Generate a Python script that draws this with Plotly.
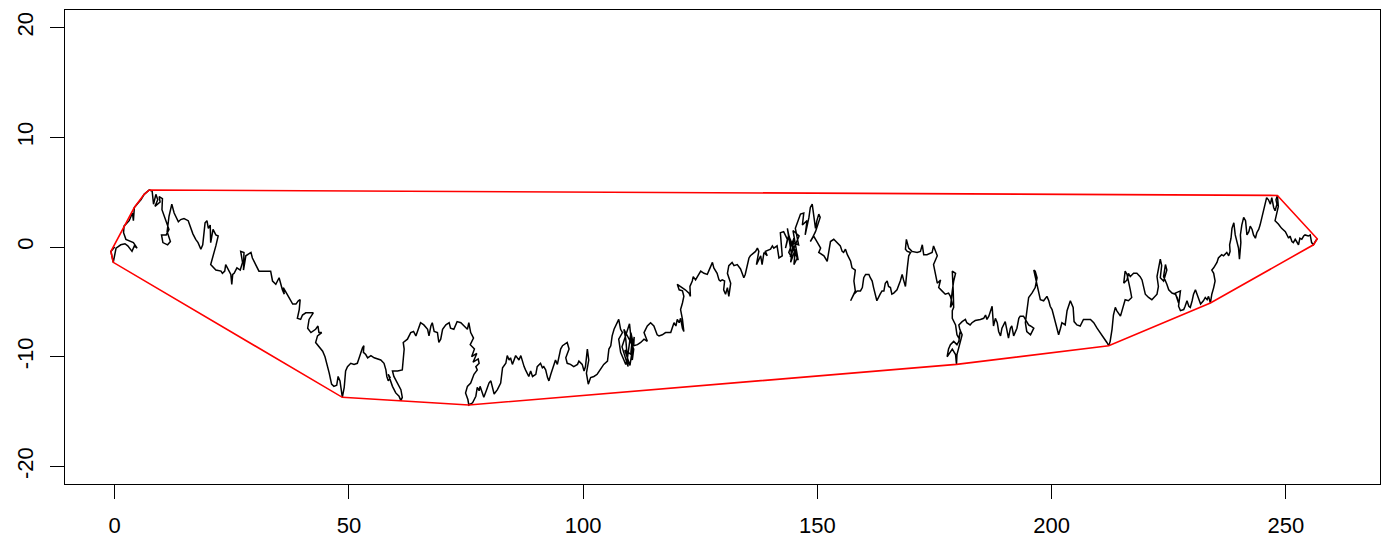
import plotly.graph_objects as go

# Random-walk path (data units), in drawing order
walk_x = [
    0.0, -0.8, -0.3, 0.3, 1.3, 2.2, 2.8, 3.7, 4.2, 4.8, 4.0, 2.4, 1.9, 2.0, 3.1, 3.8, 4.0, 4.3, 4.2, 5.0,
    5.6, 6.3, 7.4, 8.0, 8.3, 8.8, 9.2, 8.6, 9.7, 9.5, 10.2, 10.1, 10.6, 11.2, 11.6, 11.0, 10.0, 10.3, 11.3, 11.9,
    11.2, 11.6, 12.2, 12.7, 13.6, 14.1, 14.8, 15.7, 16.3, 16.7, 17.3, 17.8, 18.4, 18.8, 19.3, 19.7, 20.0, 20.4, 20.5, 21.0,
    21.6, 22.1, 21.6, 20.5, 21.6, 22.7,
    23.0, 23.5, 23.7, 24.4, 24.8, 25.0, 25.2, 25.5, 26.1, 26.8, 27.3, 26.9, 27.6, 27.5, 28.0, 29.1, 29.4, 30.1, 30.8, 31.9,
    33.3, 33.7, 34.4, 35.1, 35.5, 35.8, 36.2, 36.0, 36.8, 37.2, 38.0, 38.7, 39.2, 39.6, 39.4, 39.0, 39.7, 40.1, 40.8, 41.5,
    42.4, 41.5, 41.2, 41.9, 42.9, 43.4, 43.6, 44.2, 43.3, 42.9, 43.4, 44.4, 44.9, 45.3, 45.8, 46.3, 46.8, 47.4, 47.7, 48.1,
    48.6, 49.0, 49.3, 49.7, 50.4,
    51.1, 51.8, 52.2, 52.5, 52.9, 53.2, 53.1, 53.6, 54.0, 54.7, 55.4, 56.8, 57.5, 57.9, 58.1, 58.4, 58.8, 58.4, 59.3, 60.0,
    60.7, 61.1, 61.4, 61.1, 60.4, 59.6, 59.3, 60.4, 61.4, 61.8, 61.6, 62.5, 63.2, 63.8, 64.3, 65.0, 65.3, 66.0, 66.8, 67.1,
    67.5, 67.8, 68.2, 68.9, 69.2, 69.6, 70.0, 70.7, 71.4, 71.7, 72.4, 73.1, 73.9, 74.6, 75.3, 75.6, 76.0, 76.6, 75.9, 76.8,
    76.2, 77.3, 76.5, 77.6, 77.8, 77.1, 77.4, 76.7, 76.0, 75.3, 74.9, 75.4, 75.6,
    76.4, 77.1, 77.4, 77.8, 78.0, 78.5, 78.8, 79.4, 79.9, 80.3, 80.6, 81.0, 81.7, 82.4, 82.8, 83.5, 83.8, 84.2, 84.5, 84.9,
    85.6, 86.3, 86.7, 87.0, 87.4, 87.7, 88.1, 88.4, 88.8, 89.2, 89.9, 90.2, 90.9, 91.3, 91.6, 92.0, 92.4, 92.7, 93.1, 93.4,
    93.8, 94.1, 94.5, 95.2, 95.6, 95.9, 96.6, 97.0, 96.3, 96.6, 97.3, 98.0, 98.8, 99.1, 99.8, 100.2, 100.5, 100.9, 101.2, 100.7,
    101.1, 101.6, 102.3, 103.0, 103.7, 104.4, 105.2, 105.5, 105.9,
    106.2, 106.6, 106.9, 107.6, 108.0, 108.4, 107.6, 108.0, 108.7, 109.1, 109.4, 109.8, 110.2, 110.5, 110.2, 110.5, 110.8, 110.2, 109.4, 108.7,
    109.1, 109.6, 108.3, 109.9, 110.6, 108.9, 110.0, 110.9,
    110.8, 111.6, 112.3, 113.0, 113.7, 113.0, 113.7, 114.4, 115.1, 115.5, 115.8, 116.2, 116.9, 117.6, 118.7, 119.0, 119.4, 119.8, 120.1,
    120.5, 120.8, 121.2, 121.5, 121.2, 120.8, 121.2, 121.5, 121.2, 120.5, 120.1, 120.8, 121.8, 122.6, 122.9, 122.8, 123.3, 123.5, 124.0, 124.4,
    125.1, 125.8, 126.5, 126.8, 127.6, 127.9, 128.6, 129.0, 129.3, 129.7, 130.2, 130.0, 130.4, 130.8, 131.1, 131.5, 130.8, 131.1, 131.8, 132.2,
    132.9, 133.6, 133.9, 134.3, 134.6, 135.0, 135.4, 135.7,
    136.8, 137.2, 137.5, 137.0, 137.9, 138.2, 138.6, 139.3, 138.9, 140.0, 140.4, 140.7, 141.4, 141.8, 142.5, 142.1, 142.8, 143.6, 143.2, 143.9,
    144.3, 143.6, 144.6, 143.9, 145.0, 144.3, 145.3, 145.0, 145.7,
    144.0, 145.5, 144.2, 146.1, 144.8, 145.9, 144.5,
    146.0, 145.3, 146.4, 147.1, 146.8, 147.8, 147.4, 148.2, 148.5, 148.9, 149.2,
    149.6, 149.9, 150.3, 150.6, 149.6, 148.9, 148.5, 149.2, 149.9, 150.7, 150.3, 151.4, 152.1, 152.4, 152.8, 153.5, 154.2, 154.9, 155.3, 155.6,
    156.0, 156.4, 157.1, 157.4, 158.1, 157.8, 158.1, 157.1, 157.8, 158.5, 159.2, 159.6, 159.9, 160.3, 161.0, 161.3, 161.7, 162.0, 162.4, 162.7,
    163.4, 163.8, 164.2, 164.5, 164.9, 165.2, 165.6,
    165.9, 166.3, 167.0, 167.7, 168.1, 168.4, 168.8, 169.2, 169.5, 169.9, 169.2, 168.8, 169.0, 169.5, 170.2, 171.3, 172.0, 172.4, 172.7, 173.4,
    174.5, 174.8, 175.2, 175.6, 174.8, 175.2, 175.6, 176.3, 175.9, 176.6, 177.3, 178.0, 178.4, 178.8, 178.4, 178.8, 179.1, 179.5, 178.8, 179.0,
    179.1, 178.8,
    178.8, 179.5, 179.8, 180.2, 180.5, 180.2, 179.8, 179.1, 178.4, 178.0, 177.7, 178.4, 178.8, 179.5, 179.7, 179.8, 180.2, 180.5, 180.9, 180.4,
    180.2, 180.9, 181.6, 181.9, 182.6, 183.0, 183.7, 184.8, 185.5, 185.9, 186.2, 186.6, 186.9, 187.3, 187.6, 188.0, 188.4, 188.7, 189.1, 189.4,
    190.1, 190.5, 190.8, 191.2, 191.5, 191.9, 192.3, 192.6, 193.0, 193.3, 194.0, 194.7, 195.1, 195.5, 196.2, 195.5, 194.7, 194.4, 194.7, 195.1,
    195.8, 196.5, 196.9, 196.5, 196.2, 196.9, 197.2, 197.6, 198.3, 199.0, 199.4, 199.7, 200.1, 200.4, 200.8, 201.2, 201.5, 201.9, 202.2, 202.9,
    203.3, 204.0, 204.6, 204.8, 205.4, 206.1,
    206.8, 208.3, 209.0, 209.7, 210.4, 211.1, 211.8, 212.2, 212.5, 212.9, 213.2, 213.6, 213.9, 214.7, 215.0, 215.4, 215.7, 216.4, 217.1, 216.8,
    216.4, 216.1, 215.7, 215.4, 216.1, 216.4, 216.8, 217.5, 218.2, 218.9, 219.3, 219.6, 220.0, 220.7, 221.4, 222.5, 222.8, 222.5, 222.8, 223.2,
    223.5, 223.2, 223.9, 224.3, 224.6, 224.3, 223.9, 224.6, 225.0, 225.7, 226.4, 226.8, 227.1, 226.4, 227.5, 227.1, 227.5, 228.2, 228.5, 228.9,
    229.3, 229.6, 230.0, 230.3, 230.7, 231.0, 231.4, 231.8, 232.4, 232.8, 233.2, 233.5,
    233.9, 234.2, 234.6, 234.9, 234.6, 234.2, 234.6, 234.9, 235.3, 235.6, 236.0, 236.3, 236.7, 237.4, 237.8, 238.1, 238.0, 238.3, 238.5, 238.9,
    239.2, 239.6, 239.9, 240.1, 240.4, 240.3, 240.6, 241.0, 241.4, 241.7, 242.1, 242.4, 242.8, 243.1, 243.5, 243.8, 244.2, 244.5, 244.9, 245.2,
    245.6, 245.9, 246.3, 246.7, 247.0, 247.4, 247.7, 248.1, 247.9, 248.2, 248.4, 248.1, 247.7, 248.4, 249.1, 249.9, 250.2, 250.6, 250.9, 251.3,
    251.6, 252.0, 252.3, 252.7, 253.0, 253.4, 253.8, 254.1, 254.8, 255.2, 255.5, 255.9, 256.3, 256.7,
]
walk_y = [
    0.0, -0.4, -1.4, -0.1, 0.2, 0.3, 0.1, -0.4, 0.1, -0.1, 0.4, 0.7, 1.3, 1.9, 2.4, 3.1, 2.4, 3.4, 3.6, 4.0,
    4.3, 4.8, 5.2, 5.1, 3.9, 4.8, 4.3, 3.7, 4.1, 4.6, 4.4, 3.4, 2.8, 2.1, 1.6, 1.1, 1.1, 0.4, 0.2, 0.5,
    1.4, 2.8, 3.9, 3.1, 2.3, 2.5, 2.6, 2.4, 1.7, 1.2, 0.7, 0.4, -0.2, 0.2, 2.2, 2.4, 1.7, 2.0, 0.4, 1.6,
    1.1, 1.0, 0.1, -1.6, -2.1, -2.2,
    -2.4, -2.2, -1.6, -2.1, -2.5, -3.4, -2.5, -2.4, -1.9, -2.1, -1.4, -0.4, -0.5, -2.1, -0.8, -0.5, -1.0, -1.6, -2.2, -2.2,
    -2.2, -3.1, -3.4, -2.8, -3.6, -3.9, -4.3, -3.7, -4.3, -4.6, -5.2, -5.2, -4.9, -4.8, -5.7, -6.5, -6.6, -6.2, -6.0, -6.0,
    -6.0, -6.6, -7.4, -7.8, -7.5, -7.2, -7.8, -7.8, -8.1, -8.7, -9.0, -9.5, -10.0, -10.6, -11.5, -12.5, -12.7, -12.6, -11.8, -12.2,
    -13.7, -12.8, -11.3, -10.9, -10.6,
    -10.7, -10.6, -10.1, -9.6, -9.2, -9.0, -9.6, -9.8, -10.1, -9.9, -10.1, -10.3, -10.6, -11.2, -11.8, -12.2, -11.9, -11.6, -12.7, -13.3,
    -13.6, -14.0, -13.7, -13.0, -12.4, -11.8, -11.3, -11.3, -11.2, -9.3, -8.7, -8.4, -7.8, -7.7, -8.1, -7.2, -6.9, -7.1, -7.5, -8.1,
    -7.2, -6.9, -7.7, -7.8, -8.7, -8.4, -7.5, -7.1, -6.9, -7.4, -7.5, -6.8, -6.9, -7.2, -7.5, -6.9, -7.8, -8.3, -8.9, -9.3,
    -10.0, -9.7, -10.5, -10.2, -10.6, -10.9, -11.2, -11.6, -12.4, -12.7, -13.3, -13.9, -14.4,
    -14.2, -13.6, -12.8, -13.1, -12.7, -13.3, -13.7, -13.0, -12.4, -12.2, -12.7, -13.4, -13.0, -12.4, -11.0, -10.6, -9.9, -10.3, -10.1, -10.7,
    -9.9, -10.3, -9.9, -10.4, -10.9, -11.2, -11.6, -11.8, -11.3, -11.8, -11.6, -10.9, -10.6, -11.0, -10.9, -11.2, -11.9, -12.2, -11.6, -11.2,
    -10.6, -10.3, -10.7, -9.3, -9.0, -8.9, -8.7, -9.3, -10.1, -10.6, -10.7, -10.9, -10.7, -10.4, -10.7, -11.3, -10.9, -9.3, -10.3, -11.5,
    -12.5, -11.9, -11.8, -11.6, -11.2, -10.7, -10.4, -9.3, -9.0,
    -8.1, -7.5, -7.2, -6.6, -7.5, -7.8, -8.4, -9.6, -10.3, -10.7, -10.3, -9.0, -7.8, -8.4, -9.6, -10.3, -9.3, -8.7, -8.1, -7.5,
    -8.4, -10.9, -9.1, -7.0, -9.9, -9.4, -10.8, -8.2,
    -9.0, -8.9, -8.7, -8.4, -8.6, -7.8, -7.2, -6.9, -7.2, -7.7, -8.0, -8.1, -8.0, -7.8, -7.8, -7.4, -6.9, -7.2, -6.6,
    -6.9, -6.5, -7.4, -7.7, -6.6, -5.7, -5.1, -4.5, -4.0, -3.9, -3.4, -3.6, -3.9, -4.2, -4.5, -3.6, -3.1, -2.7, -3.0, -2.7,
    -2.2, -2.4, -2.5, -2.2, -1.4, -1.9, -2.4, -3.0, -3.1, -3.0, -3.1, -3.9, -4.3, -3.7, -4.5, -3.3, -2.4, -1.7, -1.4, -1.7,
    -1.6, -2.0, -2.4, -2.8, -2.5, -1.7, -1.0, -0.8,
    -0.4, -0.1, -0.4, -1.6, -0.8, -1.6, -0.5, -0.8, -0.4, -0.2, 0.1, -0.1, 0.1, -1.0, -0.8, 1.3, 1.4, 0.7, -0.1, 1.1,
    0.2, 1.7, -1.0, -0.5, 0.8, -1.4, -0.2, -1.6, -1.0,
    0.9, -0.6, -0.9, 1.0, 1.5, -1.2, 0.4,
    0.2, 1.7, 3.0, 3.1, 2.0, 2.4, 1.1, 2.7, 3.6, 3.9, 2.7,
    1.7, 2.4, 3.0, 2.7, 1.4, 0.8, 0.5, 1.0, 0.5, -0.1, -0.5, -0.8, -1.3, -0.4, 0.5, 0.7, 0.4, 0.1, -0.4, -0.5,
    -0.2, -0.7, -1.3, -1.9, -2.1, -3.1, -4.0, -4.9, -4.3, -4.0, -4.0, -3.7, -2.8, -2.5, -2.5, -2.8, -3.1, -3.7, -4.3, -4.9,
    -4.3, -4.0, -4.0, -3.3, -3.1, -3.6, -3.7,
    -4.3, -4.2, -3.9, -3.1, -2.5, -3.0, -3.6, -1.9, -0.8, -0.5, -0.4, -0.2, 0.7, -0.1, -0.4, -0.5, -0.4, 0.2, -0.7, -0.7,
    -0.5, 0.1, -0.4, -0.8, -1.6, -2.5, -3.3, -3.0, -3.7, -4.0, -4.3, -4.2, -4.5, -5.2, -5.5, -4.0, -3.1, -2.4, -2.2, -4.0,
    -5.5, -5.8,
    -6.5, -7.1, -8.0, -8.3, -7.7, -8.6, -8.9, -8.6, -8.9, -9.3, -10.0, -9.6, -9.3, -9.8, -10.7, -9.8, -9.2, -8.7, -8.0, -7.5,
    -7.1, -6.8, -6.6, -6.9, -7.1, -6.9, -6.7, -6.6, -6.5, -6.2, -6.6, -6.3, -5.8, -5.4, -7.2, -6.5, -6.9, -7.7, -8.1, -7.4,
    -6.8, -7.8, -8.3, -7.4, -7.2, -8.1, -7.7, -7.4, -6.5, -6.3, -6.3, -6.8, -7.1, -7.2, -7.4, -8.0, -7.7, -6.9, -5.8, -4.6,
    -4.2, -3.7, -2.8, -2.2, -2.1, -3.4, -4.2, -4.8, -4.9, -4.5, -4.9, -5.4, -5.7, -6.2, -7.1, -7.7, -8.0, -7.4, -6.9, -7.1,
    -5.8, -4.9, -5.5, -6.8, -7.1, -7.2,
    -6.6, -6.6, -6.9, -7.4, -7.8, -8.3, -8.7, -9.0, -8.6, -7.5, -6.2, -5.5, -5.8, -6.3, -5.8, -5.4, -4.8, -4.9, -4.6, -3.9,
    -3.0, -2.5, -2.2, -3.3, -3.0, -2.4, -2.7, -2.4, -2.4, -2.7, -3.0, -3.7, -4.3, -4.6, -4.8, -4.3, -3.6, -2.7, -2.1, -1.1,
    -1.7, -2.8, -3.1, -2.4, -2.1, -1.6, -2.7, -3.4, -3.9, -4.2, -4.3, -4.6, -5.1, -4.2, -4.0, -5.4, -5.8, -5.7, -5.4, -4.9,
    -5.4, -5.5, -4.9, -4.3, -3.9, -4.3, -4.8, -5.2, -4.9, -4.6, -4.8, -4.5,
    -5.1, -4.3, -3.7, -3.1, -2.4, -2.1, -1.9, -1.7, -1.4, -1.0, -0.8, -0.7, -0.8, -0.5, -0.8, -0.4, 0.2, 0.8, 1.7, 2.2,
    1.1, 0.5, -0.1, -1.1, 0.4, 1.1, 2.0, 2.7, 2.4, 1.1, 1.4, 1.9, 1.6, 1.1, 0.8, 1.3, 1.6, 2.0, 2.7, 3.3,
    3.9, 4.5, 4.3, 3.9, 4.5, 3.6, 3.3, 3.9, 4.3, 4.7, 3.7, 3.0, 2.4, 2.1, 1.7, 1.4, 1.1, 0.8, 1.0, 0.5,
    0.4, 0.7, 0.5, 0.2, 0.8, 0.7, 1.0, 1.1, 1.0, 1.1, 0.4, 0.2, 0.5, 0.75,
]

x_ticks = [0, 50, 100, 150, 200, 250]
y_ticks = [-20, -10, 0, 10, 20]
x_limits = [-10.6, 270.1]
y_limits = [-21.6, 21.6]


def convex_hull(xs, ys):
    pts = sorted(set(zip(xs, ys)))

    def cross(o, a, b):
        return (a[0] - o[0]) * (b[1] - o[1]) - (a[1] - o[1]) * (b[0] - o[0])

    lower = []
    for p in pts:
        while len(lower) >= 2 and cross(lower[-2], lower[-1], p) <= 0:
            lower.pop()
        lower.append(p)
    upper = []
    for p in reversed(pts):
        while len(upper) >= 2 and cross(upper[-2], upper[-1], p) <= 0:
            upper.pop()
        upper.append(p)
    hull = lower[:-1] + upper[:-1]
    hull.append(hull[0])
    return [p[0] for p in hull], [p[1] for p in hull]


n = min(len(walk_x), len(walk_y))
walk_x, walk_y = walk_x[:n], walk_y[:n]
hull_x, hull_y = convex_hull(walk_x, walk_y)

fig = go.Figure()
fig.add_trace(go.Scatter(x=walk_x, y=walk_y, mode="lines",
                         line=dict(color="black", width=1.5), hoverinfo="skip"))
fig.add_trace(go.Scatter(x=hull_x, y=hull_y, mode="lines",
                         line=dict(color="#ff0000", width=1.6), hoverinfo="skip"))

axis_common = dict(
    showgrid=False, zeroline=False, showline=True, mirror=True,
    linecolor="black", linewidth=1, ticks="outside", ticklen=14,
    tickwidth=1, tickcolor="black",
    tickfont=dict(family="Liberation Sans, Arial, sans-serif", size=22, color="black"),
)

fig.update_layout(
    width=1390, height=553,
    margin=dict(l=65, r=10, t=10, b=69),
    paper_bgcolor="white", plot_bgcolor="white",
    showlegend=False,
    xaxis=dict(range=x_limits, tickvals=x_ticks, ticktext=[str(v) for v in x_ticks],
               ticklabelstandoff=8, **axis_common),
    yaxis=dict(range=y_limits, tickvals=y_ticks, ticktext=[str(v) for v in y_ticks],
               tickangle=-90, ticklabelstandoff=8, **axis_common),
)

fig.write_html("out.html")
